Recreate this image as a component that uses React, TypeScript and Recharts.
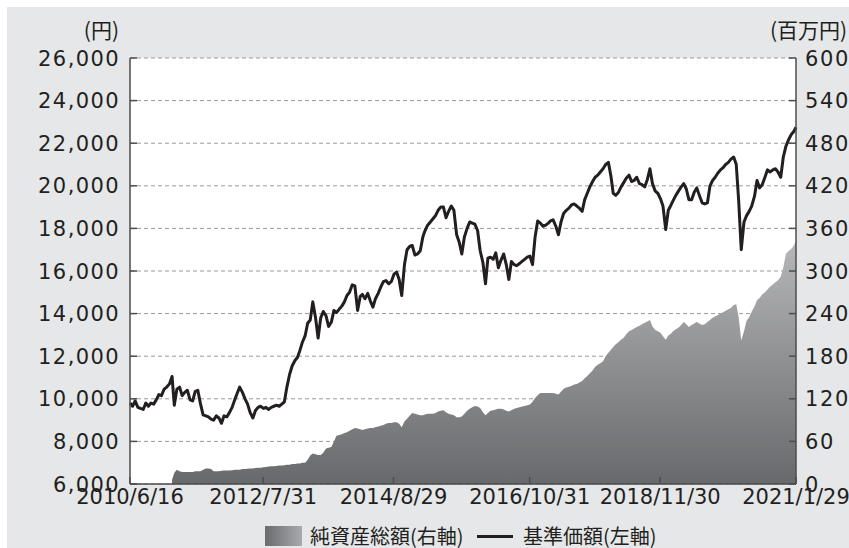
import React from 'react';
import { ComposedChart, Area, Line, XAxis, YAxis, CartesianGrid } from 'recharts';

// 基準価額 (円), 半月ごと 2010/6/16 〜 2021/1/16, 最後は 2021/1/29
const price = [
  9800, 9650, 9900, 9600, 9550, 9500, 9800, 9650, 9800, 9750,
  9950, 10200, 10150, 10450, 10550, 10700, 11050, 9700, 10450, 10550,
  10150, 10300, 10400, 9950, 9900, 10350, 10400, 9750, 9250, 9200,
  9150, 9050, 9000, 9200, 9100, 8850, 9200, 9150, 9350, 9600,
  9950, 10250, 10550, 10300, 10000, 9750, 9350, 9100, 9450, 9600,
  9650, 9550, 9600, 9500, 9600, 9650, 9700, 9650, 9750, 9850,
  10550, 11150, 11550, 11800, 11950, 12250, 12650, 12950, 13550, 13700,
  14550, 13800, 12850, 13800, 14100, 13900, 13400, 13600, 14150, 14050,
  14200, 14350, 14550, 14850, 15000, 15350, 15300, 14150, 14800, 14900,
  14700, 14950, 14600, 14300, 14700, 14950, 15250, 15500, 15550, 15400,
  15500, 15850, 15950, 15600, 14850, 16300, 17000, 17150, 17200, 16750,
  16800, 16950, 17600, 17900, 18150, 18300, 18450, 18600, 18850, 19000,
  19000, 18500, 18800, 19050, 18850, 17700, 17350, 16800, 17600, 18000,
  18300, 18250, 18200, 17900, 16950, 16400, 15400, 16600, 16650, 16550,
  16850, 16150, 16500, 16800, 16300, 15600, 16450, 16300, 16250, 16350,
  16450, 16550, 16650, 16700, 16300, 17600, 18350, 18250, 18100, 18150,
  18250, 18350, 18400, 18100, 17700, 18300, 18700, 18850, 18950, 19100,
  19150, 19050, 18950, 18800, 19350, 19650, 19950, 20200, 20400, 20500,
  20650, 20800, 21000, 21100, 20450, 19650, 19550, 19700, 19950, 20150,
  20350, 20500, 20200, 20250, 20400, 20100, 20050, 19950, 20300, 20800,
  20100, 19750, 19650, 19400, 19050, 17950, 18850, 19100, 19350, 19550,
  19750, 19950, 20100, 19850, 19350, 19350, 19700, 19900, 19550, 19200,
  19150, 19200, 20000, 20250, 20400, 20600, 20750, 20850, 21000, 21100,
  21250, 21350, 21000, 19300, 17000, 18300, 18600, 18800, 19050, 19500,
  20250, 19900, 20050, 20400, 20750, 20650, 20750, 20800, 20650, 20400,
  21350, 21850, 22150, 22400, 22550, 22750,
];

// 純資産総額 (百万円)
const assets = [
  null, null, null, null, null, null, null, null, null, null,
  null, null, null, null, null, null, 6, 16, 20, 18,
  17, 17, 17, 17, 17, 18, 18, 18, 20, 22,
  22, 21, 18, 18, 18, 18.5, 19, 19, 19, 19.5,
  20, 20, 20, 21, 21, 21.5, 22, 22, 22.5, 23,
  23, 23.5, 24, 24.5, 25, 25, 25.5, 26, 26, 26.5,
  27, 27, 28, 28, 29, 29, 30, 30, 34, 40,
  43, 42, 41, 41, 44, 50, 51, 52, 60, 68,
  69, 70, 72, 73, 75, 77, 79, 78, 77, 76,
  77, 78, 79, 79, 80, 81, 82, 83, 85, 86,
  86, 87, 87, 85, 80, 88, 92, 96, 100, 99,
  98, 97, 97, 98, 99, 99, 99, 100, 102, 103,
  104, 101, 99, 98, 97, 94, 94, 95, 99, 103,
  106, 108, 110, 109, 107, 101, 97, 100, 103, 104,
  105, 106, 106, 105, 103, 102, 104, 106, 107, 108,
  109, 110, 111, 112, 116, 121, 125, 128, 128, 128,
  128, 128, 128, 127, 126, 130, 134, 136, 137, 138,
  140, 141, 143, 145, 149, 152, 156, 160, 165, 168,
  170, 173, 180, 185, 189, 193, 197, 200, 203, 206,
  211, 215, 217, 219, 221, 223, 225, 227, 229, 231,
  222, 217, 215, 213, 208, 203, 209, 212, 216, 218,
  220, 224, 228, 225, 221, 224, 226, 228, 226, 224,
  225, 228, 231, 234, 236, 238, 240, 242, 244, 246,
  248, 252, 253, 235, 202, 215, 230, 235, 243, 250,
  259, 262, 267, 270, 274, 278, 281, 284, 287, 292,
  305, 324, 328, 331, 336, 342,
];

const xTickLabels = ['2010/6/16', '2012/7/31', '2014/8/29', '2016/10/31', '2018/11/30', '2021/1/29'];
const leftTicks = [6000, 8000, 10000, 12000, 14000, 16000, 18000, 20000, 22000, 24000, 26000];
const rightTicks = [0, 60, 120, 180, 240, 300, 360, 420, 480, 540, 600];

const toTime = (s: string) => {
  const [y, m, d] = s.split('/').map(Number);
  return Date.UTC(y, m - 1, d);
};

// 半月ごとの日付 (16日と1日)
const dates: number[] = price.map((_, i) => {
  if (i === price.length - 1) return toTime('2021/1/29');
  return i % 2 === 0 ? Date.UTC(2010, 5 + i / 2, 16) : Date.UTC(2010, 5 + (i + 1) / 2, 1);
});

const data = dates.map((t, i) => ({ t, price: price[i], assets: assets[i] }));

const xTicks = xTickLabels.map(toTime);
const tStart = xTicks[0];
const tEnd = xTicks[xTicks.length - 1];

const INK = '#231f20';
const FRAME = '#4d4d4f';
const NUM_FONT = '"DejaVu Sans", "Noto Sans CJK JP", sans-serif';
const JP_FONT = '"Noto Sans CJK JP", sans-serif';

const LeftTick = (props: any) => {
  const { x, y, payload } = props;
  return (
    <g>
      <line x1={x} x2={x + 7} y1={y} y2={y} stroke={FRAME} strokeWidth={1.5} />
      <text x={x - 10} y={y} dy="0.36em" textAnchor="end" fill={INK} fontSize={21} fontFamily={NUM_FONT} letterSpacing={1.4}>
        {Number(payload.value).toLocaleString('en-US')}
      </text>
    </g>
  );
};

const RightTick = (props: any) => {
  const { x, y, payload } = props;
  return (
    <g>
      <line x1={x - 7} x2={x} y1={y} y2={y} stroke={FRAME} strokeWidth={1.5} />
      <text x={x + 9} y={y} dy="0.36em" textAnchor="start" fill={INK} fontSize={21} fontFamily={NUM_FONT} letterSpacing={1.6}>
        {payload.value}
      </text>
    </g>
  );
};

const BottomTick = (props: any) => {
  const { x, y, payload } = props;
  const idx = xTicks.indexOf(payload.value);
  return (
    <g>
      <line x1={x} x2={x} y1={y} y2={y - 7} stroke={FRAME} strokeWidth={1.5} />
      <text x={x} y={y + 20} textAnchor="middle" fill={INK} fontSize={21} fontFamily={NUM_FONT}>
        {idx >= 0 ? xTickLabels[idx] : ''}
      </text>
    </g>
  );
};

const legendText: React.CSSProperties = {
  position: 'absolute',
  top: 518,
  height: 22,
  fontSize: 20,
  lineHeight: '22px',
  fontFamily: JP_FONT,
  color: INK,
  whiteSpace: 'nowrap',
};

export default function App() {
  return (
    <div style={{ position: 'absolute', left: 7, top: 7, width: 842, height: 541, background: '#e6e7e8', overflow: 'hidden' }}>
      <ComposedChart width={842} height={541} data={data} margin={{ top: 51, right: 0, bottom: 0, left: 0 }}>
        <defs>
          <linearGradient id="assetGrad" gradientUnits="userSpaceOnUse" x1="0" y1="51" x2="0" y2="477">
            <stop offset="0%" stopColor="#f1f1f2" />
            <stop offset="100%" stopColor="#68696c" />
          </linearGradient>
        </defs>
        <CartesianGrid yAxisId="left" vertical={false} stroke="#9a9a9a" strokeDasharray="4 3" fill="#ffffff" fillOpacity={1} />
        <XAxis
          dataKey="t"
          type="number"
          domain={[tStart, tEnd]}
          ticks={xTicks}
          interval={0}
          height={64}
          tickSize={0}
          tickMargin={0}
          tickLine={false}
          tick={<BottomTick />}
          axisLine={{ stroke: FRAME, strokeWidth: 1.5 }}
        />
        <XAxis
          xAxisId="top"
          orientation="top"
          dataKey="t"
          type="number"
          domain={[tStart, tEnd]}
          height={0}
          tick={false}
          tickLine={false}
          axisLine={{ stroke: FRAME, strokeWidth: 1.5 }}
        />
        <YAxis
          yAxisId="left"
          orientation="left"
          width={123}
          domain={[6000, 26000]}
          ticks={leftTicks}
          interval={0}
          tickSize={0}
          tickMargin={0}
          tickLine={false}
          tick={<LeftTick />}
          axisLine={{ stroke: FRAME, strokeWidth: 1.5 }}
        />
        <YAxis
          yAxisId="right"
          orientation="right"
          width={53}
          domain={[0, 600]}
          ticks={rightTicks}
          interval={0}
          tickSize={0}
          tickMargin={0}
          tickLine={false}
          tick={<RightTick />}
          axisLine={{ stroke: FRAME, strokeWidth: 1.5 }}
        />
        <Area
          yAxisId="right"
          dataKey="assets"
          type="linear"
          stroke="none"
          fill="url(#assetGrad)"
          fillOpacity={1}
          isAnimationActive={false}
        />
        <Line
          yAxisId="left"
          dataKey="price"
          type="linear"
          stroke={INK}
          strokeWidth={3}
          strokeLinejoin="round"
          dot={false}
          activeDot={false}
          isAnimationActive={false}
        />
        <text x={112} y={23} dy="0.36em" textAnchor="end" fill={INK} fontSize={21} fontFamily={JP_FONT}>(円)</text>
        <text x={763} y={23} dy="0.36em" textAnchor="start" fill={INK} fontSize={21} fontFamily={JP_FONT}>(百万円)</text>
      </ComposedChart>
      <div style={{ position: 'absolute', left: 258, top: 519, width: 37, height: 20, background: 'linear-gradient(to right, #6a6b6e, #a9aaad)' }} />
      <span style={{ ...legendText, left: 303 }}>純資産総額(右軸)</span>
      <div style={{ position: 'absolute', left: 470, top: 527.5, width: 36, height: 3, background: INK }} />
      <span style={{ ...legendText, left: 516 }}>基準価額(左軸)</span>
    </div>
  );
}
